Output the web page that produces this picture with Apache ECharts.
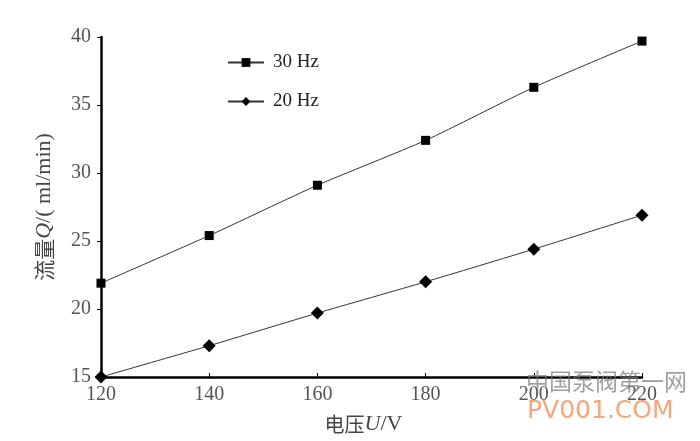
<!DOCTYPE html>
<html>
<head>
<meta charset="utf-8">
<script src="https://cdn.jsdelivr.net/npm/echarts@6/dist/echarts.min.js"></script>
<style>
html,body{margin:0;padding:0;background:#fff;}
#chart{width:700px;height:441px;}
</style>
</head>
<body>
<div id="chart"></div>
<script>
var voltages = [120, 140, 160, 180, 200, 220];
var flow30Hz = [21.9, 25.4, 29.1, 32.4, 36.3, 39.7];
var flow20Hz = [15.0, 17.3, 19.7, 22.0, 24.4, 26.9];
var seriesNames = ['30Hz', '20Hz'];

function pairs(xs, ys) { return xs.map(function (x, i) { return [x, ys[i]]; }); }

var serif = '"Liberation Serif", "DejaVu Serif", serif';
var cjk = '"Noto Sans CJK SC", sans-serif';
var chart = echarts.init(document.getElementById('chart'));
chart.setOption({
  backgroundColor: '#ffffff',
  animation: false,
  grid: { left: 101, right: 58, top: 37, bottom: 64 },
  legend: {
    orient: 'vertical',
    left: 222,
    top: 48,
    itemGap: 20,
    itemWidth: 36,
    itemHeight: 11,
    formatter: function (n) { return n.replace('Hz', ' Hz'); },
    textStyle: { fontFamily: serif, fontSize: 19, color: '#222', padding: [0, 0, 0, 4] },
    data: seriesNames
  },
  xAxis: {
    type: 'value',
    min: 120, max: 220, interval: 20,
    name: '{c|电压}{i|U}{s|/V}',
    nameLocation: 'middle',
    nameGap: 36,
    nameTextStyle: {
      padding: [0, 16, 0, 0],
      rich: {
        c: { fontFamily: cjk, fontSize: 20, color: '#444' },
        i: { fontFamily: serif, fontStyle: 'italic', fontSize: 22, color: '#444' },
        s: { fontFamily: serif, fontSize: 22, color: '#444' }
      }
    },
    axisLine: { lineStyle: { color: '#000', width: 2.5 } },
    axisTick: { show: true, inside: true, length: 4, lineStyle: { color: '#000', width: 1 } },
    axisLabel: { fontFamily: serif, fontSize: 20, color: '#555', margin: 8 },
    splitLine: { show: false }
  },
  yAxis: {
    type: 'value',
    min: 15, max: 40, interval: 5,
    name: '{c|流量}{i|Q}{s|/( ml/min)}',
    nameLocation: 'middle',
    nameGap: 46,
    nameRotate: 90,
    nameTextStyle: {
      padding: [0, 0, 0, 0],
      rich: {
        c: { fontFamily: cjk, fontSize: 21, color: '#444' },
        i: { fontFamily: serif, fontStyle: 'italic', fontSize: 22, color: '#444' },
        s: { fontFamily: serif, fontSize: 22, color: '#444' }
      }
    },
    axisLine: { show: true, lineStyle: { color: '#000', width: 2.5 } },
    axisTick: { show: true, length: 4, lineStyle: { color: '#000', width: 1 } },
    axisLabel: { fontFamily: serif, fontSize: 20, color: '#555', margin: 10 },
    splitLine: { show: false }
  },
  series: [
    {
      name: seriesNames[0],
      type: 'line',
      smooth: 0.2,
      data: pairs(voltages, flow30Hz),
      symbol: 'rect',
      symbolSize: 9,
      itemStyle: { color: '#000' },
      lineStyle: { color: '#333', width: 1 }
    },
    {
      name: seriesNames[1],
      type: 'line',
      smooth: 0.2,
      data: pairs(voltages, flow20Hz),
      symbol: 'diamond',
      symbolSize: 13,
      itemStyle: { color: '#000' },
      lineStyle: { color: '#333', width: 1 }
    }
  ],
  graphic: [
    { type: 'text', left: 526, top: 370, z: 100,
      style: { text: '中国泵阀第一网', fill: 'rgba(120,120,120,0.7)', font: '23px "Noto Sans CJK SC"' } },
    { type: 'text', left: 527, top: 399, z: 100,
      style: { text: 'PV001.COM', fill: 'rgba(245,150,95,0.85)', font: '25px "DejaVu Sans", sans-serif' } }
  ]
});
</script>
</body>
</html>
